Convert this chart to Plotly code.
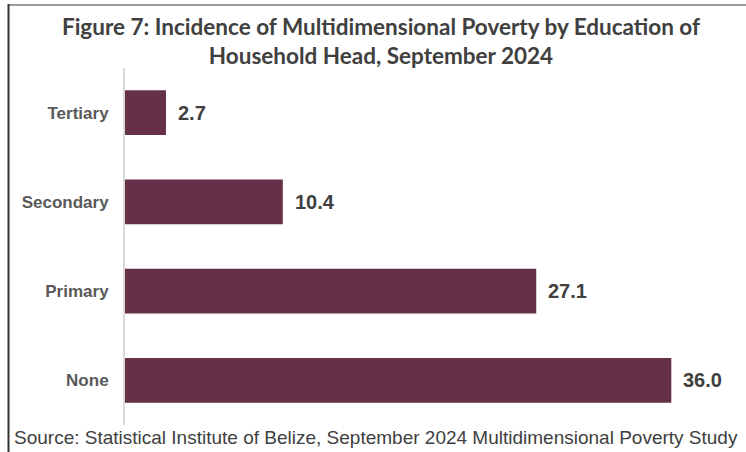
import plotly.graph_objects as go

# Education level of household head (bottom to top) and incidence (%)
categories = ["None", "Primary", "Secondary", "Tertiary"]
incidence = [36.0, 27.1, 10.4, 2.7]

W, H = 746, 452
ML, MR, MT, MB = 125, 14, 68, 27
plot_w = W - ML - MR
plot_h = H - MT - MB

BAR = "#663049"
TXT = "#404040"


def px_x(px):
    return (px - ML) / plot_w


def px_y(py):
    return (H - MB - py) / plot_h


fig = go.Figure(
    go.Bar(
        x=incidence,
        y=categories,
        orientation="h",
        marker=dict(color=BAR, line=dict(width=0)),
        width=0.5,
        hoverinfo="skip",
    )
)

# value labels to the right of each bar
for cat, val in zip(categories, incidence):
    fig.add_annotation(
        x=val, y=cat, xref="x", yref="y",
        text=f"<b>{val:.1f}</b>", showarrow=False,
        xanchor="left", yanchor="middle", xshift=10,
        font=dict(family="Liberation Sans, Arial", size=20, color=TXT),
    )

# source note
fig.add_annotation(
    x=px_x(12), y=px_y(437), xref="paper", yref="paper",
    text="Source: Statistical Institute of Belize, September 2024 Multidimensional Poverty Study",
    showarrow=False, xanchor="left", yanchor="middle",
    font=dict(family="Liberation Sans, Arial", size=19, color=TXT),
)

# frame lines (top and left)
fig.add_shape(type="line", xref="paper", yref="paper",
              x0=px_x(8), x1=px_x(746), y0=px_y(5), y1=px_y(5),
              line=dict(color="#9a9a9a", width=2))
fig.add_shape(type="line", xref="paper", yref="paper",
              x0=px_x(8.5), x1=px_x(8.5), y0=px_y(4), y1=px_y(452),
              line=dict(color="#333333", width=2))

fig.update_layout(
    width=W, height=H,
    margin=dict(l=ML, r=MR, t=MT, b=MB, pad=0),
    paper_bgcolor="white", plot_bgcolor="white",
    showlegend=False,
    title=dict(
        text="<b>Figure 7: Incidence of Multidimensional Poverty by Education of<br>Household Head, September 2024</b>",
        xref="container", yref="container",
        x=381 / W, xanchor="center",
        y=1 - 35 / H, yanchor="middle",
        font=dict(family="Lato", size=22.5, color=TXT),
    ),
    xaxis=dict(range=[0, 40], visible=False, fixedrange=True),
    yaxis=dict(
        categoryorder="array", categoryarray=categories,
        range=[-0.5, 3.5],
        showline=True, linecolor="#d9d9d9", linewidth=2,
        showgrid=False, zeroline=False,
        ticks="", ticklabelstandoff=11,
        tickfont=dict(family="Liberation Sans, Arial", size=17, color="#595959"),
        fixedrange=True,
    ),
)

# make the category labels bold
fig.update_yaxes(tickvals=categories, ticktext=[f"<b>{c}</b>" for c in categories])

fig.write_html("out.html")
